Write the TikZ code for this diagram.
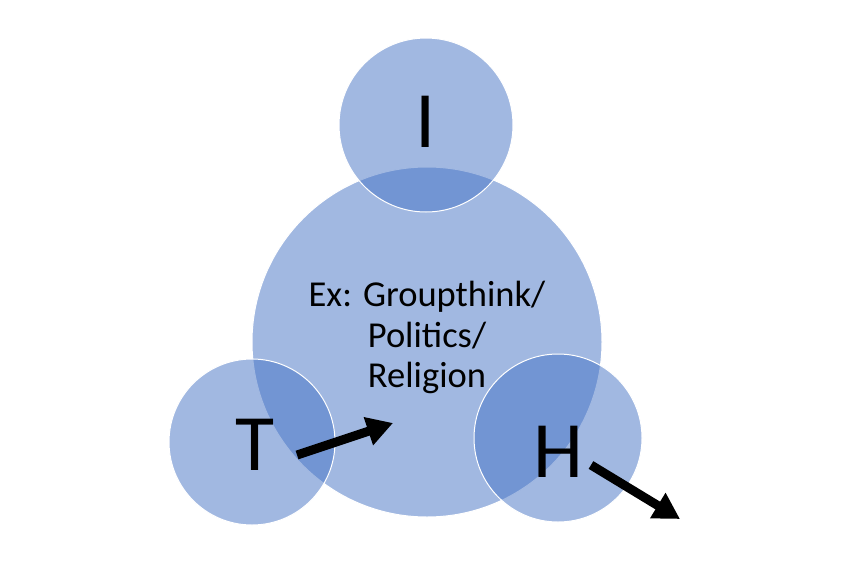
\documentclass[tikz,border=0pt]{standalone}
\usepackage{fontspec}
\setmainfont{Carlito}
\usetikzlibrary{arrows.meta}
\definecolor{cfill}{HTML}{4472C4}
\begin{document}
\begin{tikzpicture}[x=1pt,y=-1pt,
  blob/.style={circle,fill=cfill,fill opacity=0.5,draw=white,line width=1pt,inner sep=0pt},
  letter/.style={font=\fontsize{80}{90}\selectfont,inner sep=0pt},
  label/.style={font=\fontsize{36.5}{40.5}\selectfont,inner sep=0pt,anchor=base},
  arr/.style={line width=9pt,-{Triangle[length=26pt,width=28pt]}}]
\useasboundingbox (0,0) rectangle (854,568);
\node[blob,minimum size=350pt] (big) at (427,342) {};
\node[blob,minimum size=174pt] (top) at (426,125) {};
\node[blob,minimum size=166pt] (left) at (252,442) {};
\node[blob,minimum size=168pt] (right) at (558,438) {};
\node[letter,anchor=base] (I) at (426,147) {I};
\node[letter,anchor=base] (T) at (255,470) {T};
\node[letter,anchor=base] (H) at (558,477) {H};
\node[label] (txt1) at (427,306.5) {Ex: Groupthink/};
\node[label] (txt2) at (427,347) {Politics/};
\node[label] (txt3) at (427,387.5) {Religion};
\coordinate (a1s) at (297,455);
\coordinate (a1e) at (393,423);
\coordinate (a2s) at (591,465);
\coordinate (a2e) at (680,519);
\draw[arr] (a1s) -- (a1e);
\draw[arr] (a2s) -- (a2e);
\end{tikzpicture}
\end{document}
